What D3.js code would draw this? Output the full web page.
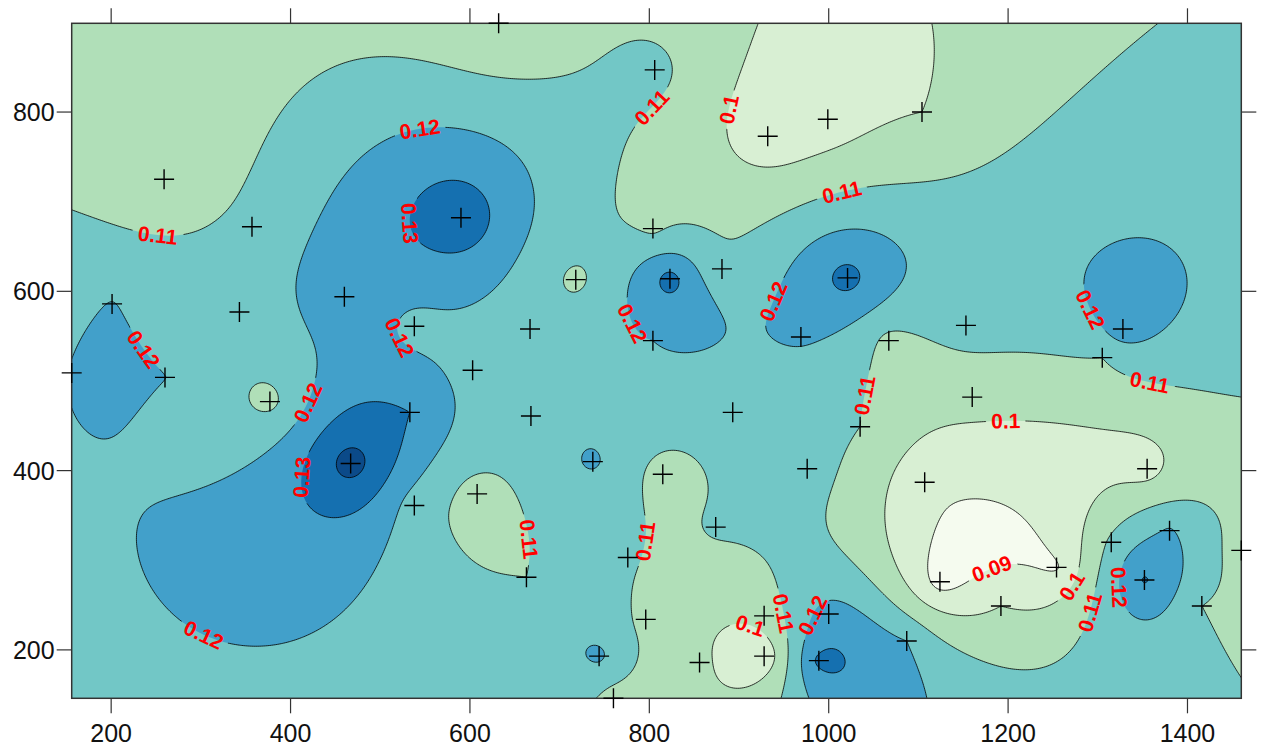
<!DOCTYPE html>
<html>
<head>
<meta charset="utf-8">
<script src="https://cdn.jsdelivr.net/npm/d3@7"></script>
<style>
  html, body { margin: 0; padding: 0; background: #fff; }
  svg { display: block; }
</style>
</head>
<body>
<svg id="chart" width="1261" height="746"></svg>
<script>
// Sampling sites and the value measured at each one
const sampleX = [632, 806, 932, 999, 1104, 259, 357, 590, 804, 718, 823, 881, 1021, 201, 460, 343, 538, 667, 804, 969,
                 1067, 1153, 1328, 1305, 156, 260, 603, 377, 1160, 533, 668, 893, 1035, 467, 737, 976, 815, 1107, 1355, 608,
                 538, 874, 1315, 1380, 1460, 776, 663, 1124, 1254, 1352, 1192, 1416, 796, 928, 1000, 744, 856, 928, 989, 1087, 760];
const sampleY = [899, 847, 773, 792, 800, 725, 672, 682, 670, 613, 614, 625, 615, 586, 594, 577, 561, 558, 545, 549,
                 545, 562, 558, 526, 509, 504, 512, 477, 482, 465, 461, 465, 449, 408, 410, 402, 396, 387, 402, 374,
                 361, 337, 320, 333, 311, 303, 281, 276, 292, 278, 249, 249, 234, 238, 240, 193, 186, 193, 188, 210, 146];
const sampleV = [0.101, 0.113, 0.094, 0.095, 0.100, 0.102, 0.113, 0.138, 0.108, 0.108, 0.134, 0.111, 0.134, 0.1203, 0.126, 0.116, 0.117, 0.114, 0.120, 0.121,
                 0.107, 0.114, 0.1255, 0.110, 0.1201, 0.1201, 0.117, 0.107, 0.104, 0.130, 0.115, 0.115, 0.110, 0.145, 0.1215, 0.114, 0.106, 0.093, 0.096, 0.106,
                 0.115, 0.111, 0.112, 0.121, 0.106, 0.111, 0.110, 0.086, 0.089, 0.131, 0.100, 0.110, 0.107, 0.104, 0.124, 0.122, 0.102, 0.092, 0.1325, 0.120, 0.106];

// Contour levels and the fill for each band (lowest band first)
const levels = [0.09, 0.10, 0.11, 0.12, 0.13, 0.14];
const bandColors = ["#f5fbef", "#d8efd3", "#b0dfb8", "#72c7c6", "#42a0ca", "#1570b0", "#0b4a89"];

// Axis ticks
const xTicks = [200, 400, 600, 800, 1000, 1200, 1400];
const yTicks = [200, 400, 600, 800];

// Where each contour label sits (map units) and the level it names
const labelX = [544, 252, 539, 799, 875, 1014, 238, 528, 412, 418, 791, 944, 1294, 1361, 1035, 1198, 658, 797, 1185, 1267, 1330, 1289, 305, 942, 910, 977];
const labelY = [783, 667, 677, 808, 807, 713, 538, 553, 480, 391, 570, 586, 582, 510, 486, 434, 322, 320, 283, 274, 270, 242, 220, 240, 218, 242];
const labelLevel = [0.12, 0.11, 0.13, 0.11, 0.10, 0.11, 0.12, 0.12, 0.12, 0.13, 0.12, 0.12, 0.12, 0.11, 0.11, 0.10, 0.11, 0.11, 0.09, 0.10, 0.12, 0.11, 0.12, 0.11, 0.10, 0.12];

const W = 1261, H = 746;
const margin = { left: 71.7, right: W - 1241.3, top: 23.3, bottom: H - 698.3 };
const plotW = W - margin.left - margin.right;
const plotH = H - margin.top - margin.bottom;

const svg = d3.select("#chart");
const fontFamily = "'Liberation Sans', Arial, Helvetica, sans-serif";

const x = d3.scaleLinear().domain(d3.extent(sampleX)).range([margin.left, margin.left + plotW]);
const y = d3.scaleLinear().domain(d3.extent(sampleY)).range([margin.top + plotH, margin.top]);

// ---- Ordinary kriging surface (exponential variogram, no nugget) ----
const n = sampleX.length;
const RANGE = 600;
const gamma = h => 1 - Math.exp(-h / RANGE);

function solve(A, b) {
  const m = b.length;
  for (let k = 0; k < m; k++) {
    let p = k;
    for (let i = k + 1; i < m; i++) if (Math.abs(A[i][k]) > Math.abs(A[p][k])) p = i;
    [A[k], A[p]] = [A[p], A[k]];
    [b[k], b[p]] = [b[p], b[k]];
    for (let i = k + 1; i < m; i++) {
      const f = A[i][k] / A[k][k];
      if (!f) continue;
      for (let j = k; j < m; j++) A[i][j] -= f * A[k][j];
      b[i] -= f * b[k];
    }
  }
  const out = new Array(m).fill(0);
  for (let i = m - 1; i >= 0; i--) {
    let s = b[i];
    for (let j = i + 1; j < m; j++) s -= A[i][j] * out[j];
    out[i] = s / A[i][i];
  }
  return out;
}

const A = [];
for (let i = 0; i <= n; i++) {
  const row = new Array(n + 1).fill(0);
  for (let j = 0; j <= n; j++) {
    if (i < n && j < n) row[j] = gamma(Math.hypot(sampleX[i] - sampleX[j], sampleY[i] - sampleY[j]));
    else if (i === n && j === n) row[j] = 0;
    else row[j] = 1;
  }
  A.push(row);
}
const rhs = sampleV.concat([0]);
const weights = solve(A, rhs);

function surface(px, py) {
  let s = weights[n];
  for (let i = 0; i < n; i++) s += weights[i] * gamma(Math.hypot(px - sampleX[i], py - sampleY[i]));
  return s;
}

// Evaluate on a pixel grid over the plot
const step = 2;
const gw = Math.ceil(plotW / step) + 1;
const gh = Math.ceil(plotH / step) + 1;
const grid = new Float64Array(gw * gh);
for (let j = 0; j < gh; j++) {
  const dy = y.invert(margin.top + j * step);
  for (let i = 0; i < gw; i++) {
    grid[j * gw + i] = surface(x.invert(margin.left + i * step), dy);
  }
}

const contours = d3.contours().size([gw, gh]).thresholds(levels)(grid);
const toScreen = d3.geoTransform({
  point(cx, cy) { this.stream.point(margin.left + (cx - 0.5) * step, margin.top + (cy - 0.5) * step); }
});
const path = d3.geoPath(toScreen);

// ---- Drawing ----
const defs = svg.append("defs");
defs.append("clipPath").attr("id", "plotClip")
  .append("rect").attr("x", margin.left).attr("y", margin.top).attr("width", plotW).attr("height", plotH);

const plot = svg.append("g").attr("clip-path", "url(#plotClip)");
plot.append("rect").attr("x", margin.left).attr("y", margin.top).attr("width", plotW).attr("height", plotH)
  .attr("fill", bandColors[0]);
plot.append("g").selectAll("path").data(contours).join("path")
  .attr("d", path)
  .attr("fill", (d, i) => bandColors[i + 1])
  .attr("stroke", "none");

// Label placement: snap each label onto its contour line and follow the line direction
function ringsOf(c) {
  const rings = [];
  c.coordinates.forEach(poly => poly.forEach(r => rings.push(r.map(p => [margin.left + (p[0] - 0.5) * step, margin.top + (p[1] - 0.5) * step]))));
  return rings;
}
const labels = labelX.map((lx, k) => {
  const level = labelLevel[k];
  const ci = levels.findIndex(l => Math.abs(l - level) < 1e-9);
  const tx = x(lx), ty = y(labelY[k]);
  let best = null, bd = Infinity;
  ringsOf(contours[ci]).forEach(r => {
    for (let i = 0; i < r.length; i++) {
      const p = r[i];
      if (p[0] < margin.left + 3 || p[0] > margin.left + plotW - 3 || p[1] < margin.top + 3 || p[1] > margin.top + plotH - 3) continue;
      const d = Math.hypot(p[0] - tx, p[1] - ty);
      if (d < bd) { bd = d; best = { r, i }; }
    }
  });
  let px = tx, py = ty, ang = 0;
  if (best && bd < 80) {
    const r = best.r, m = r.length;
    px = r[best.i][0]; py = r[best.i][1];
    const a = r[(best.i - 5 + m) % m], b = r[(best.i + 5) % m];
    ang = Math.atan2(b[1] - a[1], b[0] - a[0]) * 180 / Math.PI;
    if (ang > 90) ang -= 180;
    if (ang <= -90) ang += 180;
  }
  return { px, py, ang, text: String(+level.toFixed(2)) };
});

const labelSize = 21;
const gapWidth = d => d.text.length * labelSize * 0.56 + 4;
const mask = defs.append("mask").attr("id", "labelGaps").attr("maskUnits", "userSpaceOnUse")
  .attr("x", 0).attr("y", 0).attr("width", W).attr("height", H);
mask.append("rect").attr("width", W).attr("height", H).attr("fill", "#fff");
mask.selectAll("rect.gap").data(labels).join("rect").attr("class", "gap")
  .attr("x", d => -gapWidth(d) / 2).attr("y", -9)
  .attr("width", gapWidth).attr("height", 18)
  .attr("transform", d => `translate(${d.px},${d.py}) rotate(${d.ang})`)
  .attr("fill", "#000");

plot.append("g").attr("mask", "url(#labelGaps)").selectAll("path").data(contours).join("path")
  .attr("d", path)
  .attr("fill", "none")
  .attr("stroke", "#000")
  .attr("stroke-width", 0.8);

plot.append("g").selectAll("text").data(labels).join("text")
  .attr("transform", d => `translate(${d.px},${d.py}) rotate(${d.ang})`)
  .attr("text-anchor", "middle").attr("dy", "0.36em")
  .attr("font-family", fontFamily).attr("font-weight", "bold").attr("font-size", labelSize)
  .attr("fill", "#ff0000")
  .text(d => d.text);

// Frame and ticks on all four sides
svg.append("rect").attr("x", margin.left).attr("y", margin.top).attr("width", plotW).attr("height", plotH)
  .attr("fill", "none").attr("stroke", "#333").attr("stroke-width", 1.5);

const tickLen = 15;
const ticks = svg.append("g").attr("stroke", "#333").attr("stroke-width", 1.2);
xTicks.forEach(t => {
  ticks.append("line").attr("x1", x(t)).attr("x2", x(t)).attr("y1", margin.top + plotH).attr("y2", margin.top + plotH + tickLen);
  ticks.append("line").attr("x1", x(t)).attr("x2", x(t)).attr("y1", margin.top).attr("y2", margin.top - tickLen);
});
yTicks.forEach(t => {
  ticks.append("line").attr("y1", y(t)).attr("y2", y(t)).attr("x1", margin.left).attr("x2", margin.left - tickLen);
  ticks.append("line").attr("y1", y(t)).attr("y2", y(t)).attr("x1", margin.left + plotW).attr("x2", margin.left + plotW + tickLen);
});

svg.append("g").selectAll("text").data(xTicks).join("text")
  .attr("x", d => x(d)).attr("y", margin.top + plotH + tickLen + 29)
  .attr("text-anchor", "middle")
  .attr("font-family", fontFamily).attr("font-size", 25).attr("fill", "#111")
  .text(d => d);
svg.append("g").selectAll("text").data(yTicks).join("text")
  .attr("x", margin.left - tickLen - 2).attr("y", d => y(d)).attr("dy", "0.36em")
  .attr("text-anchor", "end")
  .attr("font-family", fontFamily).attr("font-size", 25).attr("fill", "#111")
  .text(d => d);

// Sampling sites
svg.append("g").selectAll("path").data(sampleX).join("path")
  .attr("transform", (d, i) => `translate(${x(d)},${y(sampleY[i])})`)
  .attr("d", "M-10,0H10M0,-10V10")
  .attr("stroke", "#000").attr("stroke-width", 1.4).attr("fill", "none");
</script>
</body>
</html>
